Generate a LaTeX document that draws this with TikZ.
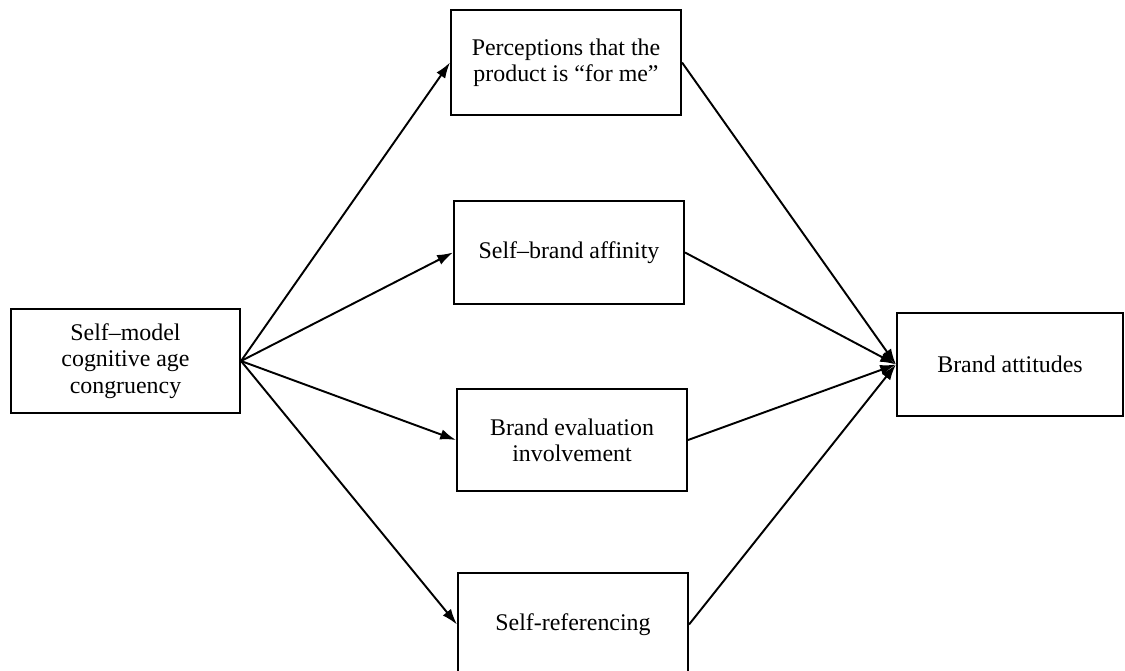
\documentclass[tikz,border=0pt]{standalone}
\usepackage{fontspec}
\setmainfont{Liberation Serif}
\usetikzlibrary{arrows.meta}
\begin{document}
\begin{tikzpicture}[x=0.02cm,y=-0.02cm,
  box/.style={draw, line width=1.2pt, fill=white, align=center,
    minimum width=4.6cm, minimum height=2.06cm, inner sep=0pt,
    font=\fontsize{13.6pt}{14.6pt}\selectfont},
  link/.style={line width=1.1pt, -{Latex[length=9pt,width=6pt]}}]
\useasboundingbox (0,0) rectangle (1125,670);
\clip (0,0) rectangle (1125,670);
% nodes
\node[box, minimum width=4.58cm, minimum height=2.08cm,
  font=\fontsize{13.6pt}{15.2pt}\selectfont] (src) at (125.5,361) {Self--model\\cognitive age\\congruency};
\node[box, minimum height=2.1cm] (m1) at (566,62.5) {Perceptions that the\\product is ``for me''};
\node[box] (m2) at (569,252.5) {Self--brand affinity};
\node[box, minimum height=2.04cm] (m3) at (572,440) {Brand evaluation\\involvement};
\node[box] (m4) at (573,624.5) {Self-referencing};
\node[box, minimum width=4.52cm] (out) at (1010,364.5) {Brand attitudes};
% paths from the source to the mediators
\foreach \m in {m1,m2,m3,m4} \draw[link] (src.east) -- (\m.west);
% paths from the mediators to the outcome
\foreach \m in {m1,m2,m3,m4} \draw[link] (\m.east) -- (out.west);
\end{tikzpicture}
\end{document}
